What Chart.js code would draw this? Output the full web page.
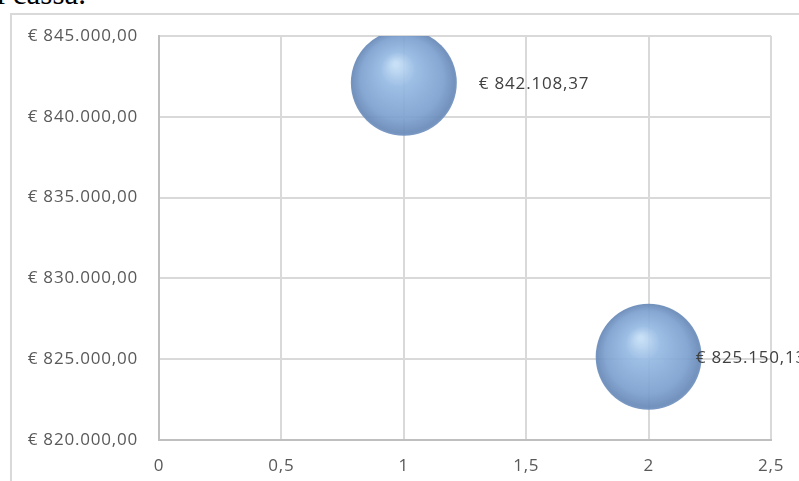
<!DOCTYPE html>
<html>
<head>
<meta charset="utf-8">
<script src="https://cdn.jsdelivr.net/npm/chart.js@4"></script>
<style>
    html, body { margin: 0; padding: 0; background: #fff; overflow: hidden; }
    #wrap { position: relative; width: 799px; height: 481px; overflow: hidden; }
    #frame { position: absolute; left: 10px; top: 13px; width: 820px; height: 520px; border: 2px solid #d9d9d9; box-sizing: border-box; }
    #caption { position: absolute; right: 713px; top: -22px; white-space: nowrap;
               font-family: "Liberation Serif", serif; font-size: 31px; line-height: 31px; color: #000; }
    canvas { position: absolute; left: 0; top: 0; }
</style>
</head>
<body>
<div id="wrap">
    <div id="frame"></div>
    <div id="caption">di cassa.</div>
    <canvas id="bubbleChart" width="799" height="481"></canvas>
</div>
<script>
// Series values
const xValues = [1, 2];
const yValues = [842108.37, 825150.13];
const bubbleSizes = [53, 53];

// Axis range / ticks
const xTicks = [0, 0.5, 1, 1.5, 2, 2.5];
const yTicks = [820000, 825000, 830000, 835000, 840000, 845000];

function formatEuro(v) {
    const parts = v.toFixed(2).split('.');
    const intPart = parts[0].replace(/\B(?=(\d{3})+(?!\d))/g, '.');
    return '€ ' + intPart + ',' + parts[1];
}

// soft 3D sphere look
function sphereFill(context) {
    const chart = context.chart;
    if (!chart.chartArea || !context.raw) return 'rgba(123,160,204,0.9)';
    const x = chart.scales.x.getPixelForValue(context.raw.x);
    const y = chart.scales.y.getPixelForValue(context.raw.y);
    const r = context.raw.r;
    const g = chart.ctx.createRadialGradient(x - r * 0.15, y - r * 0.35, r * 0.04, x, y, r * 1.02);
    g.addColorStop(0, 'rgba(196,222,246,0.93)');
    g.addColorStop(0.3, 'rgba(148,184,226,0.92)');
    g.addColorStop(0.75, 'rgba(124,160,206,0.92)');
    g.addColorStop(0.95, 'rgba(104,138,184,0.93)');
    g.addColorStop(1, 'rgba(118,150,196,0.93)');
    return g;
}

// wider spacing like the reference text
const spacing = {
    id: 'spacing',
    beforeDraw(chart) { chart.ctx.letterSpacing = '0.8px'; }
};

// value labels to the right of each bubble
const labelOffsets = [75, 47];
const valueLabels = {
    id: 'valueLabels',
    afterDatasetsDraw(chart) {
        const ctx = chart.ctx;
        const meta = chart.getDatasetMeta(0);
        ctx.save();
        ctx.font = '17px "Open Sans"';
        ctx.fillStyle = '#404040';
        ctx.textAlign = 'left';
        ctx.textBaseline = 'middle';
        meta.data.forEach((el, i) => {
            ctx.fillText(formatEuro(yValues[i]), el.x + labelOffsets[i], el.y + 1);
        });
        ctx.restore();
    }
};

const points = xValues.map((x, i) => ({ x: x, y: yValues[i], r: bubbleSizes[i] }));

new Chart(document.getElementById('bubbleChart'), {
    type: 'bubble',
    data: {
        datasets: [{
            data: points,
            backgroundColor: sphereFill,
            borderWidth: 0,
            hoverRadius: 0,
            clip: { left: 60, top: 0, right: 60, bottom: 60 }
        }]
    },
    options: {
        responsive: false,
        animation: false,
        events: [],
        layout: { autoPadding: false, padding: { left: 0, top: 36, right: 26, bottom: 0 } },
        plugins: {
            legend: { display: false },
            tooltip: { enabled: false }
        },
        scales: {
            x: {
                type: 'linear',
                min: xTicks[0],
                max: xTicks[xTicks.length - 1],
                afterBuildTicks: s => { s.ticks = xTicks.map(v => ({ value: v })); },
                afterFit: s => { s.height = 41; },
                grid: { color: '#d9d9d9', lineWidth: 2, drawTicks: false },
                border: { color: '#bfbfbf', width: 2 },
                ticks: {
                    padding: 16,
                    color: '#595959',
                    font: { family: 'Open Sans', size: 17 },
                    callback: v => String(v).replace('.', ',')
                }
            },
            y: {
                type: 'linear',
                min: yTicks[0],
                max: yTicks[yTicks.length - 1],
                afterBuildTicks: s => { s.ticks = yTicks.map(v => ({ value: v })); },
                afterFit: s => { s.width = 159; },
                grid: { color: '#d9d9d9', lineWidth: 2, drawTicks: false },
                border: { color: '#bfbfbf', width: 2 },
                ticks: {
                    padding: 21,
                    color: '#595959',
                    font: { family: 'Open Sans', size: 17 },
                    callback: v => formatEuro(v)
                }
            }
        }
    },
    plugins: [spacing, valueLabels]
});
</script>
</body>
</html>
